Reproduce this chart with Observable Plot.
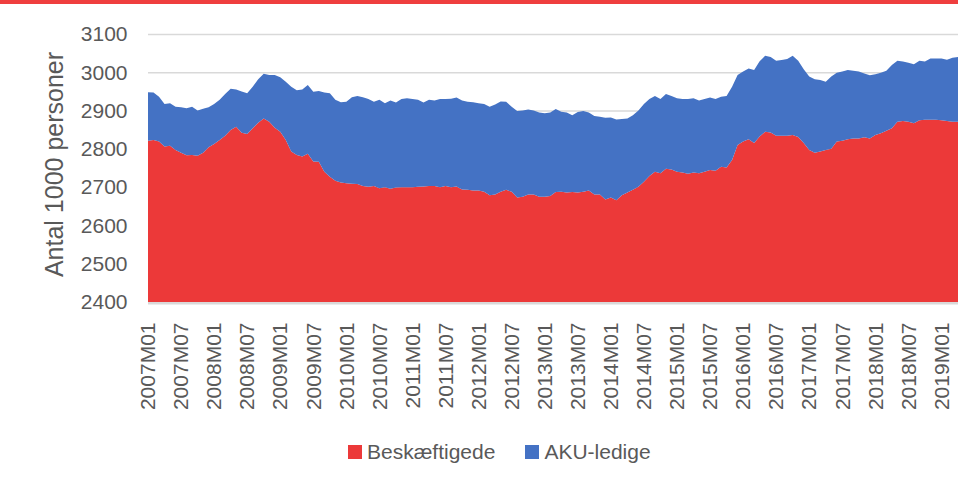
<!DOCTYPE html>
<html>
<head>
<meta charset="utf-8">
<script src="https://cdn.jsdelivr.net/npm/d3@7"></script>
<script src="https://cdn.jsdelivr.net/npm/@observablehq/plot@0.6"></script>
<style>
  body { margin: 0; background: #fff; font-family: "Liberation Sans", Arial, sans-serif; }
  #wrap { position: relative; width: 958px; height: 491px; overflow: hidden; }
  #band { position: absolute; left: 0; top: 0; width: 958px; height: 4px; background: #EF3E3E; }
  #chart { position: absolute; left: 0; top: 0; }
  #legend { position: absolute; left: 348px; top: 440px; display: flex; align-items: center; font-size: 21px; color: #595959; }
  .sw { width: 14px; height: 14px; display: inline-block; margin-right: 5px; }
  .item { display: flex; align-items: center; margin-right: 30px; }
</style>
</head>
<body>
<div id="wrap">
  <div id="band"></div>
  <div id="chart"></div>
  <div id="legend"></div>
</div>
<script>
const seriesNames = ["Beskæftigede", "AKU-ledige"];
const seriesColors = ["#EC3939", "#4472C4"];
const startYear = 2007;
const tickLabels = ["2007M01","2007M07","2008M01","2008M07","2009M01","2009M07","2010M01","2010M07","2011M01","2011M07","2012M01","2012M07","2013M01","2013M07","2014M01","2014M07","2015M01","2015M07","2016M01","2016M07","2017M01","2017M07","2018M01","2018M07","2019M01"];
const yTicks = [2400, 2500, 2600, 2700, 2800, 2900, 3000, 3100];

// Beskæftigede (1000 persons), monthly 2007M01 - 2019M04
const beskaeftigede = [
2821,2823,2819,2806,2808,2797,2790,2783,2784,2782,2790,2804,
2813,2823,2834,2849,2858,2842,2839,2854,2868,2879,2871,2855,
2845,2823,2793,2784,2780,2787,2767,2766,2740,2727,2717,2712,
2710,2709,2708,2703,2701,2703,2697,2700,2696,2699,2700,2700,
2700,2701,2702,2703,2703,2700,2703,2700,2702,2694,2693,2691,
2691,2688,2679,2681,2688,2693,2688,2673,2675,2681,2681,2675,
2675,2677,2687,2688,2686,2687,2686,2688,2691,2681,2681,2668,
2673,2666,2679,2686,2693,2701,2714,2729,2740,2736,2748,2746,
2740,2738,2735,2738,2736,2740,2745,2743,2753,2751,2771,2810,
2819,2825,2815,2832,2845,2843,2834,2834,2834,2836,2831,2815,
2797,2790,2793,2797,2800,2819,2821,2825,2827,2827,2830,2827,
2836,2841,2847,2854,2871,2873,2871,2867,2875,2876,2876,2876,
2875,2873,2871,2871
];
// AKU-ledige (1000 persons), monthly 2007M01 - 2019M04
const akuLedige = [
127,124,117,111,111,113,119,123,126,118,115,105,
104,105,109,108,97,108,106,108,114,117,122,138,
142,152,169,169,175,180,182,185,207,218,211,210,
213,226,230,232,229,220,231,219,230,222,230,232,
230,227,219,225,223,230,227,231,232,232,230,231,
228,229,231,235,236,230,222,226,225,222,219,220,
218,218,217,209,209,201,210,211,204,205,203,213,
209,211,199,193,195,199,203,201,198,194,195,192,
192,192,195,194,190,190,189,187,183,187,191,183,
183,185,191,197,198,197,196,198,201,207,199,193,
192,192,187,178,189,180,181,181,177,175,167,165,
159,158,157,165,159,155,154,154,155,152,160,160,
161,160,167,169
];

const monthLabel = i => `${startYear + Math.floor(i / 12)}M${String(i % 12 + 1).padStart(2, "0")}`;
const rows = beskaeftigede.map((b, i) => ({ i, besk: b, total: b + akuLedige[i] }));
const tickIdx = tickLabels.map(l => (+l.slice(0, 4) - startYear) * 12 + (+l.slice(5) - 1));

const chart = Plot.plot({
  width: 958,
  height: 420,
  marginLeft: 148,
  marginRight: 0,
  marginTop: 34,
  marginBottom: 118,
  style: { fontFamily: '"Liberation Sans", Arial, sans-serif', fontSize: "21px", color: "#595959", background: "transparent" },
  x: { domain: [0, rows.length - 1] },
  y: { domain: [2400, 3100] },
  marks: [
    Plot.gridY(yTicks, { stroke: "#D9D9D9", strokeOpacity: 1, strokeWidth: 1.5 }),
    Plot.areaY(rows, { x: "i", y1: 2400, y2: "besk", fill: seriesColors[0] }),
    Plot.areaY(rows, { x: "i", y1: "besk", y2: "total", fill: seriesColors[1] }),
    Plot.ruleY([2400], { stroke: "#D9D9D9", strokeWidth: 2, dy: 1 }),
    Plot.axisY({ ticks: yTicks, tickSize: 0, tickPadding: 21, label: null, tickFormat: d => String(d), fill: "#595959", fontSize: 21 }),
    Plot.axisX({ ticks: tickIdx, tickSize: 0, tickPadding: 20, tickRotate: -90, label: null, tickFormat: i => monthLabel(i), fill: "#595959", fontSize: 21 }),
    Plot.text(["Antal 1000 personer"], { text: d => d, frameAnchor: "left", textAnchor: "middle", lineAnchor: "middle", dx: -94, dy: -4, rotate: -90, fontSize: 25, fill: "#595959" })
  ]
});
document.getElementById("chart").appendChild(chart);

const legend = document.getElementById("legend");
seriesNames.forEach((name, k) => {
  const item = document.createElement("div");
  item.className = "item";
  const sw = document.createElement("span");
  sw.className = "sw";
  sw.style.background = seriesColors[k];
  item.appendChild(sw);
  item.appendChild(document.createTextNode(name));
  legend.appendChild(item);
});
</script>
</body>
</html>
